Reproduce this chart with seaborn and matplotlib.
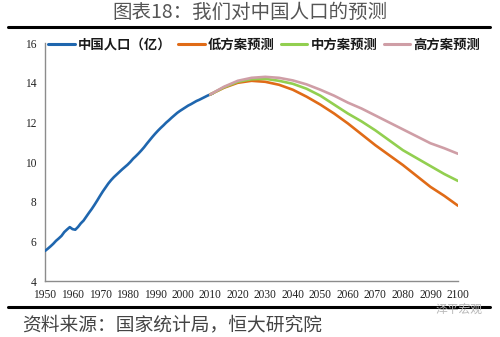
import numpy as np
import pandas as pd
import matplotlib
matplotlib.use("Agg")
import matplotlib.pyplot as plt
import seaborn as sns
from matplotlib.lines import Line2D

# Historical population, 100 million people
hist_years = list(range(1950, 2012))
hist_pop = [5.52, 5.63, 5.75, 5.88, 6.03, 6.15, 6.28, 6.47, 6.60, 6.72,
            6.62, 6.59, 6.73, 6.91, 7.05, 7.25, 7.45, 7.64, 7.85, 8.07,
            8.30, 8.52, 8.72, 8.92, 9.09, 9.24, 9.37, 9.50, 9.63, 9.75,
            9.87, 10.01, 10.17, 10.30, 10.44, 10.59, 10.75, 10.93, 11.10, 11.27,
            11.43, 11.58, 11.72, 11.85, 11.99, 12.11, 12.24, 12.36, 12.48, 12.58,
            12.67, 12.76, 12.85, 12.92, 13.00, 13.08, 13.14, 13.21, 13.28, 13.35,
            13.41, 13.47]

# Projection scenarios
proj_years = [2010, 2015, 2020, 2025, 2030, 2035, 2040, 2045, 2050, 2055,
              2060, 2065, 2070, 2075, 2080, 2085, 2090, 2095, 2100]
low_pop = [13.41, 13.75, 14.00, 14.10, 14.05, 13.90, 13.65, 13.30, 12.90, 12.45,
           11.95, 11.40, 10.85, 10.35, 9.85, 9.30, 8.75, 8.30, 7.80]
mid_pop = [13.41, 13.77, 14.05, 14.18, 14.20, 14.10, 13.95, 13.70, 13.35, 12.90,
           12.45, 12.05, 11.60, 11.10, 10.60, 10.20, 9.80, 9.40, 9.05]
high_pop = [13.41, 13.80, 14.10, 14.25, 14.30, 14.25, 14.12, 13.92, 13.65, 13.35,
            13.00, 12.70, 12.35, 12.00, 11.65, 11.30, 10.95, 10.70, 10.42]

labels = ["中国人口（亿）", "低方案预测", "中方案预测", "高方案预测"]
colors = ["#1f66ae", "#e06b17", "#92cf50", "#cf9ea6"]
x_ticks = list(range(1950, 2101, 10))
y_ticks = list(range(4, 17, 2))

sns.set_theme(style="white")
plt.rcParams["font.family"] = ["Noto Sans CJK SC", "DejaVu Sans"]

fig = plt.figure(figsize=(5.0, 3.37), dpi=100)
ax = fig.add_axes([0.09, 0.166, 0.826, 0.706])

hist_df = pd.DataFrame({"year": hist_years, "pop": hist_pop})
sns.lineplot(data=hist_df, x="year", y="pop", ax=ax, color=colors[0], lw=1.9, zorder=3)

proj_df = pd.DataFrame({"year": proj_years, "低": low_pop, "中": mid_pop, "高": high_pop})
for key, c in zip(["低", "中", "高"], [colors[1], colors[2], colors[3]]):
    sns.lineplot(data=proj_df, x="year", y=key, ax=ax, color=c, lw=1.9, zorder=4)

ax.set_xlim(1950, 2100)
ax.set_ylim(4, 16)
ax.set_xticks(x_ticks)
ax.set_yticks(y_ticks)
ax.set_xlabel("")
ax.set_ylabel("")
for side in ["top", "right"]:
    ax.spines[side].set_visible(False)
for side in ["left", "bottom"]:
    ax.spines[side].set_color("#8c8c8c")
    ax.spines[side].set_linewidth(1.0)
ax.tick_params(axis="both", direction="out", length=4, width=0.9, color="#8c8c8c",
               pad=2, labelsize=8.3)
for lab in ax.get_xticklabels() + ax.get_yticklabels():
    lab.set_fontfamily("Liberation Serif")
    lab.set_color("#222222")

handles = [Line2D([0], [0], color=c, lw=2.2) for c in colors]
leg = ax.legend(handles, labels, loc="upper left", bbox_to_anchor=(-0.005, 1.045),
                ncol=4, frameon=False, handlelength=2.0, handletextpad=0.25,
                columnspacing=0.45, borderaxespad=0.0,
                prop={"family": ["Noto Sans CJK SC", "DejaVu Sans"], "weight": "bold", "size": 9.6})
for t in leg.get_texts():
    t.set_color("#1a1a1a")

# Title and rules
fig.text(0.5, 0.962, "图表18：我们对中国人口的预测", ha="center", va="center",
         fontsize=14, color="#555555")
fig.add_artist(Line2D([0.016, 0.98], [0.92, 0.92], color="black", lw=2.2,
                      transform=fig.transFigure))
fig.add_artist(Line2D([0.016, 0.98], [0.089, 0.089], color="black", lw=2.2,
                      transform=fig.transFigure))

fig.text(0.044, 0.035, "资料来源：国家统计局，恒大研究院", ha="left", va="center",
         fontsize=13.5, color="#444444", style="italic")
fig.text(0.966, 0.083, "泽平宏观", ha="right", va="center",
         fontsize=8.5, color="#b8b8b8")

fig.savefig("out.png", dpi=100)
